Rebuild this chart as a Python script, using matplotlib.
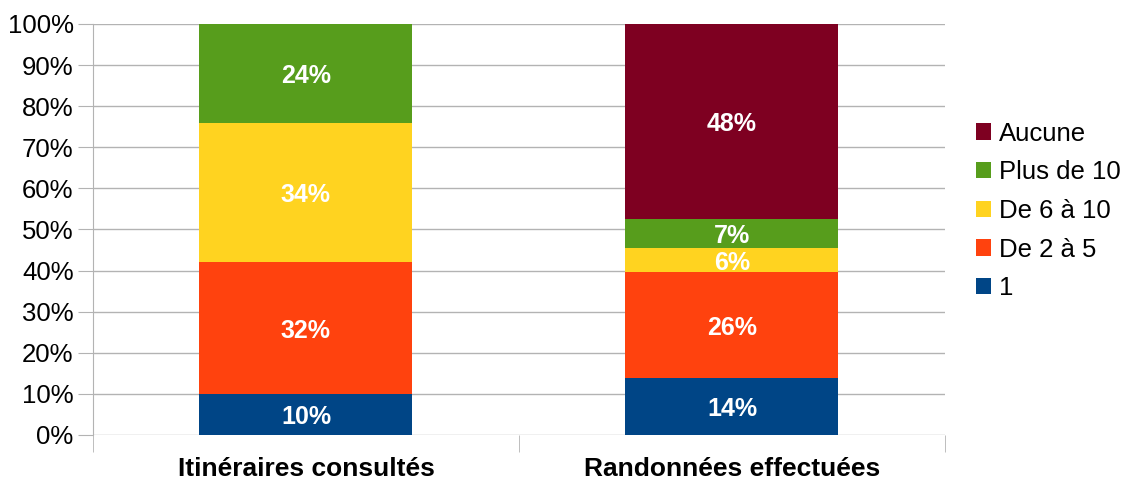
import matplotlib.pyplot as plt
import numpy as np

plt.rcParams['font.family'] = ['Liberation Sans', 'DejaVu Sans']

categories = ['Itinéraires consultés', 'Randonnées effectuées']
series = ['1', 'De 2 à 5', 'De 6 à 10', 'Plus de 10', 'Aucune']
values = {
    '1': [10, 14],
    'De 2 à 5': [32, 26],
    'De 6 à 10': [34, 6],
    'Plus de 10': [24, 7],
    'Aucune': [0, 48],
}
colors = ['#004586', '#ff420e', '#ffd320', '#579d1c', '#7e0021']

fig = plt.figure(figsize=(11.27, 4.79), dpi=100)
ax = fig.add_axes([0.0825, 0.0919, 0.756, 0.858])

data = np.array([values[s] for s in series], dtype=float)
totals = data.sum(axis=0)
shares = data / totals * 100   # stacked to 100%

x = np.arange(len(categories))
bottom = np.zeros(len(categories))
handles = []
for i, s in enumerate(series):
    b = ax.bar(x, shares[i], 0.5, bottom=bottom, color=colors[i], label=s, zorder=3)
    handles.append(b)
    for j in range(len(categories)):
        if data[i, j] > 0:
            ax.text(x[j], bottom[j] + shares[i, j] / 2, '%d%%' % data[i, j],
                    ha='center', va='center_baseline', color='white', fontsize=18,
                    fontweight='bold', zorder=4)
    bottom += shares[i]

ax.set_xlim(-0.5, 1.5)
ax.set_ylim(0, 100)
ax.set_yticks(np.arange(0, 101, 10))
ax.set_yticklabels(['%d%%' % v for v in range(0, 101, 10)], fontsize=18.5)
ax.set_xticks(x)
ax.set_xticklabels(categories, fontsize=19, fontweight='bold')
ax.set_xticks([-0.5, 0.5, 1.5], minor=True)
ax.tick_params(axis='x', which='major', length=0, pad=15.5)
ax.tick_params(axis='x', which='minor', length=12, color='#b3b3b3')
ax.tick_params(axis='y', length=11, color='#b3b3b3', pad=3)
ax.grid(axis='y', color='#b3b3b3', linewidth=1, zorder=0)
for sp in ['top', 'right', 'bottom']:
    ax.spines[sp].set_visible(False)
ax.spines['left'].set_color('#b3b3b3')

leg = ax.legend(handles[::-1], series[::-1], loc='center left',
                bbox_to_anchor=(1.009, 0.545), frameon=False, fontsize=18.5,
                handlelength=0.6, handleheight=0.6, handletextpad=0.3,
                labelspacing=0.57, borderpad=0.4)

fig.savefig('out.png', dpi=100)
